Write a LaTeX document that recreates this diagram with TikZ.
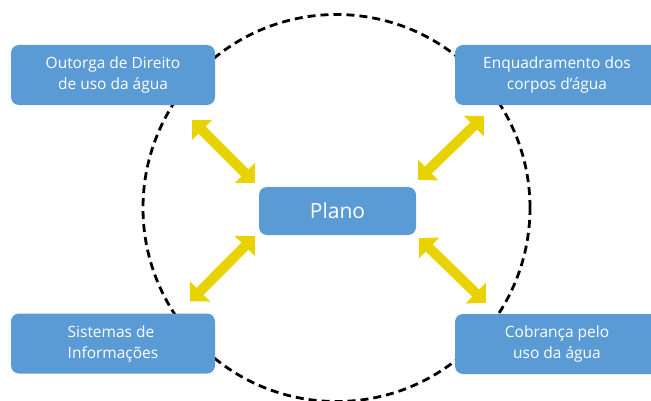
\documentclass[tikz,border=0pt]{standalone}
\usepackage{fontspec}
\setmainfont{Open Sans}
\usetikzlibrary{positioning,arrows.meta}
\definecolor{azul}{RGB}{91,155,213}
\definecolor{amarelo}{RGB}{232,211,0}
\begin{document}
\begin{tikzpicture}[x=1pt,y=1pt,on grid]
                \tikzstyle{caixa}= [fill=azul, text=white, rounded corners=8pt, minimum width=204pt, minimum height=60pt, align=center, font=\fontsize{15.5}{21}\selectfont]
                \tikzstyle{duplo}= [amarelo, line width=10pt, {Triangle[length=14pt,width=28pt]}-{Triangle[length=14pt,width=28pt]}]
                \useasboundingbox (0,0) rectangle (651,400);
                \coordinate (centro) at (336.5,192);
                \draw [black, line width=2.8pt, dash pattern=on 8pt off 5pt] (centro) circle (193.5);
                \node[caixa, minimum width=157pt, minimum height=48pt, font=\fontsize{21}{24}\selectfont] (plano) at (337.5,189) {Plano};
                \node[caixa] (outorga) [above left=136pt and 224.5pt of plano] {Outorga de Direito\\de uso da água};  %\color{red}
		        \node[caixa] (enquadramento) [above right=136pt and 219.5pt of plano] {Enquadramento dos\\corpos d’água};
		        \node[caixa, align=left] (sistemas) [below left=132.5pt and 224.5pt of plano] {Sistemas de\\Informações};
		        \node[caixa] (cobranca) [below right=133pt and 219.5pt of plano] {Cobrança pelo\\uso da água};

                 \draw [duplo] ([shift={(-23pt,-15pt)}]outorga.south east) -- ([shift={(-4pt,4pt)}]plano.north west);
                 \draw [duplo] ([shift={(29pt,-11pt)}]enquadramento.south west) -- ([shift={(2pt,7pt)}]plano.north east);
                 \draw [duplo] ([shift={(-4pt,-1pt)}]plano.south west) -- ([shift={(-25pt,12pt)}]sistemas.north east);
                 \draw [duplo] ([shift={(3pt,-3pt)}]plano.south east) -- ([shift={(31pt,11pt)}]cobranca.north west);
\end{tikzpicture}
\end{document}
